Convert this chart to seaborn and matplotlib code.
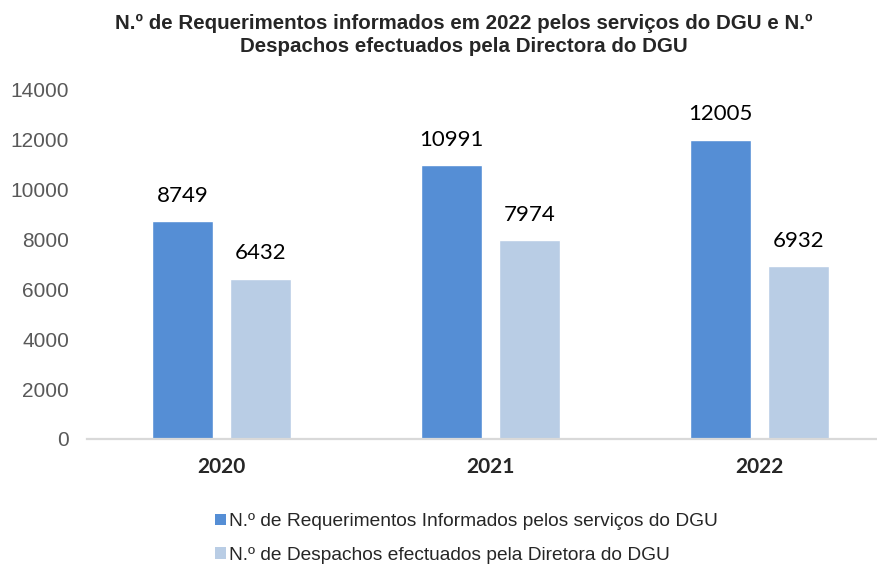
import matplotlib
matplotlib.use("Agg")
import matplotlib.pyplot as plt
import seaborn as sns
import pandas as pd
from matplotlib.patches import Patch

# data
years = ["2020", "2021", "2022"]
requerimentos = [8749, 10991, 12005]
despachos = [6432, 7974, 6932]
series_names = ["N.º de Requerimentos Informados pelos serviços do DGU",
                "N.º de Despachos efectuados pela Diretora do DGU"]
colors = ["#558ED5", "#B9CDE5"]
yticks = [0, 2000, 4000, 6000, 8000, 10000, 12000, 14000]

df = pd.DataFrame({
    "ano": years * 2,
    "valor": requerimentos + despachos,
    "serie": [series_names[0]] * 3 + [series_names[1]] * 3,
})

sns.set_style("white")
plt.rcParams["font.family"] = ["Liberation Sans", "DejaVu Sans"]

fig = plt.figure(figsize=(8.77, 5.65), dpi=100)
ax = fig.add_axes([87 / 877, 126 / 565, 807 / 877, 349 / 565])

sns.barplot(data=df, x="ano", y="valor", hue="serie", palette=colors,
            width=0.58, gap=0.23, saturation=1, legend=False, ax=ax)

# value labels
for cont in ax.containers:
    ax.bar_label(cont, labels=[f"{int(v)}" for v in cont.datavalues],
                 padding=11, fontsize=16, family="Lato", color="#000000")

ax.set_xlim(-0.5, 2.5)
ax.set_ylim(0, 14000)
ax.set_yticks(yticks)
ax.set_yticklabels([str(t) for t in yticks], fontsize=15, color="#595959")
ax.set_xticks(range(len(years)))
ax.set_xticklabels(years, fontsize=15, fontweight="bold", family="Lato")
ax.tick_params(axis="y", length=0, pad=13)
ax.tick_params(axis="x", length=0, pad=13)
ax.set_xlabel("")
ax.set_ylabel("")
for s in ["top", "right", "left"]:
    ax.spines[s].set_visible(False)
ax.spines["bottom"].set_color("#D9D9D9")
ax.spines["bottom"].set_linewidth(1.6)

fig.text(464 / 877, 1 - 35 / 565,
         "N.º de Requerimentos informados em 2022 pelos serviços do DGU e N.º\n"
         "Despachos efectuados pela Directora do DGU",
         ha="center", va="center", fontsize=14.8, fontweight="bold",
         linespacing=1.3)

handles = [Patch(facecolor=c, edgecolor="none") for c in colors]
fig.legend(handles, series_names, loc="upper left",
           bbox_to_anchor=(198 / 877, 1 - 496 / 565), frameon=False,
           fontsize=13.8, handlelength=0.55, handleheight=0.55, handletextpad=0.15,
           labelspacing=0.85, labelcolor="#262626")

fig.savefig("out.png", dpi=100)
